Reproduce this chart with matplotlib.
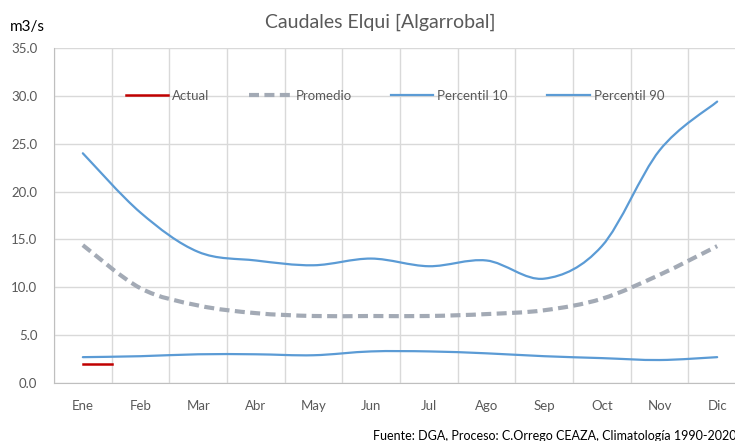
import matplotlib
matplotlib.use("Agg")
import matplotlib.pyplot as plt
import numpy as np
from matplotlib.lines import Line2D
from matplotlib.patches import PathPatch
from matplotlib.path import Path

plt.rcParams["font.family"] = ["Lato", "DejaVu Sans"]

# datos (m3/s)
meses = ["Ene", "Feb", "Mar", "Abr", "May", "Jun", "Jul", "Ago", "Sep", "Oct", "Nov", "Dic"]
promedio = [14.4, 9.9, 8.1, 7.3, 7.0, 7.0, 7.0, 7.2, 7.6, 8.8, 11.3, 14.3]
percentil_10 = [2.7, 2.8, 3.0, 3.0, 2.9, 3.3, 3.3, 3.1, 2.8, 2.6, 2.4, 2.7]
percentil_90 = [24.0, 17.8, 13.7, 12.8, 12.3, 13.0, 12.2, 12.8, 10.9, 14.3, 24.3, 29.4]
actual_x = [0, 0.5]
actual = [2.0, 2.0]

GRIS_TXT = "#595959"
AZUL = "#5b9bd5"
GRIS_LINEA = "#a3aab5"
ROJO = "#c00000"


def curva_suave(x, y):
    # curva tipo Excel (Catmull-Rom como Bezier cubico)
    x = np.asarray(x, float)
    y = np.asarray(y, float)
    pts = np.column_stack([x, y])
    n = len(pts)
    verts = [pts[0]]
    codes = [Path.MOVETO]
    for i in range(n - 1):
        p0 = pts[max(i - 1, 0)]
        p1 = pts[i]
        p2 = pts[i + 1]
        p3 = pts[min(i + 2, n - 1)]
        c1 = p1 + (p2 - p0) / 6.0
        c2 = p2 - (p3 - p1) / 6.0
        verts += [c1, c2, p2]
        codes += [Path.CURVE4] * 3
    return Path(verts, codes)


fig = plt.figure(figsize=(7.35, 4.41), dpi=100)
ax = fig.add_axes([54 / 735, 1 - 383 / 441, 692 / 735, 335 / 441])

x = np.arange(len(meses))

ax.add_patch(PathPatch(curva_suave(x, percentil_10), fill=False, edgecolor=AZUL,
                       lw=1.6, capstyle="round", zorder=3))
ax.add_patch(PathPatch(curva_suave(x, percentil_90), fill=False, edgecolor=AZUL,
                       lw=1.6, capstyle="round", zorder=3))
ax.add_patch(PathPatch(curva_suave(x, promedio), fill=False, edgecolor=GRIS_LINEA,
                       lw=3.0, linestyle=(0, (2.4, 1.3)), zorder=3))
ax.plot(actual_x, actual, color=ROJO, lw=1.8, zorder=4)

ax.set_xlim(-0.5, len(meses) - 0.5)
ax.set_ylim(0, 35)
ax.set_yticks(np.arange(0, 35.1, 5))
ax.set_yticklabels([f"{v:.1f}" for v in np.arange(0, 35.1, 5)])
ax.set_xticks(x)
ax.set_xticklabels(meses)
ax.set_xticks(np.arange(-0.5, len(meses), 1), minor=True)

ax.grid(False)
ax.grid(True, which="minor", axis="x", color="#d9d9d9", lw=1)
ax.grid(True, which="major", axis="y", color="#d9d9d9", lw=1)
ax.set_axisbelow(True)
for s in ["top", "right"]:
    ax.spines[s].set_visible(False)
for s in ["left", "bottom"]:
    ax.spines[s].set_color("#bfbfbf")
ax.tick_params(which="both", length=0, colors=GRIS_TXT, labelsize=9.5)
ax.tick_params(axis="x", pad=12)
ax.tick_params(axis="y", pad=12)

handles = [
    Line2D([], [], color=ROJO, lw=1.8),
    Line2D([], [], color=GRIS_LINEA, lw=3.0, linestyle=(0, (2.4, 1.3))),
    Line2D([], [], color=AZUL, lw=1.6),
    Line2D([], [], color=AZUL, lw=1.6),
]
leg = ax.legend(handles, ["Actual", "Promedio", "Percentil 10", "Percentil 90"],
                loc="center", bbox_to_anchor=(0.493, 0.857), ncol=4, frameon=False,
                fontsize=9.5, handlelength=3.2, handletextpad=0.3, columnspacing=3.0,
                labelcolor=GRIS_TXT)

fig.text(380 / 735, 1 - 22 / 441, "Caudales Elqui [Algarrobal]", ha="center", va="center",
         fontsize=14, color=GRIS_TXT)
fig.text(10 / 735, 1 - 27 / 441, "m3/s", ha="left", va="center", fontsize=11, color="black")
fig.text(736 / 735, 1 - 436 / 441, "Fuente: DGA, Proceso: C.Orrego CEAZA, Climatología 1990-2020",
         ha="right", va="center", fontsize=9, color="black")

fig.savefig("out.png", dpi=100)
